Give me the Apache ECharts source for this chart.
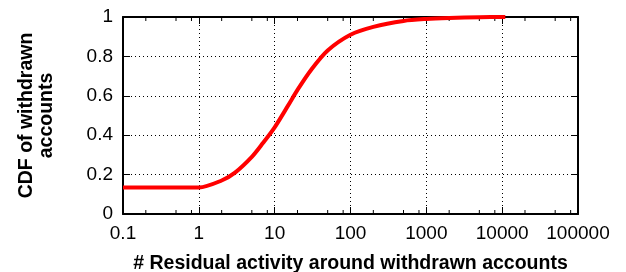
<!DOCTYPE html>
<html>
<head>
<meta charset="utf-8">
<script src="https://cdn.jsdelivr.net/npm/echarts@6/dist/echarts.min.js"></script>
<style>
  html, body { margin: 0; padding: 0; background: #fff; }
  #chart { width: 626px; height: 272px; }
</style>
</head>
<body>
<div id="chart"></div>
<script>
// 曲线数据
var xVals = [0.1, 1, 2, 3, 5, 7, 10, 15, 20, 30, 50, 100, 200, 500, 1000, 2000, 5000, 11000];
var yVals = [0.135, 0.135, 0.17, 0.21, 0.29, 0.36, 0.44, 0.55, 0.63, 0.73, 0.83, 0.91, 0.95, 0.98, 0.99, 0.995, 0.999, 1.0];
// 坐标轴刻度标签
var xTickLabels = ['0.1', '1', '10', '100', '1000', '10000', '100000'];
var yTickLabels = ['0', '0.2', '0.4', '0.6', '0.8', '1'];
// 次刻度
var minorTicks = [0.2, 0.5, 0.8, 2, 5, 8, 20, 50, 80, 200, 500, 800, 2000, 5000, 8000, 20000, 50000, 80000];

var font = 'Liberation Sans, Arial, Helvetica, sans-serif';

var lineData = [];
for (var i = 0; i < xVals.length; i++) {
  lineData.push([xVals[i], yVals[i]]);
}

var myChart = echarts.init(document.getElementById('chart'));

var xAxisBase = {
  type: 'log',
  logBase: 10,
  min: 0.1,
  max: 100000,
  interval: 1,
  axisLine: { show: true, onZero: false, lineStyle: { color: '#000', width: 2 } },
  axisTick: { show: true, inside: true, length: 7, lineStyle: { color: '#000', width: 1 } },
  splitLine: { show: false }
};

var yAxisBase = {
  type: 'value',
  min: 0,
  max: 1,
  interval: 0.2,
  axisLine: { show: true, lineStyle: { color: '#000', width: 2 } },
  axisTick: { show: true, inside: true, length: 7, lineStyle: { color: '#000', width: 1 } },
  splitLine: { show: false }
};

var option = {
  animation: false,
  grid: { left: 123, right: 48, top: 17, bottom: 58, containLabel: false, outerBoundsMode: 'none' },
  xAxis: [
    Object.assign({}, xAxisBase, {
      position: 'bottom',
      name: '# Residual activity around withdrawn accounts',
      nameLocation: 'middle',
      nameGap: 40,
      nameTextStyle: { color: '#000', fontFamily: font, fontWeight: 'bold', fontSize: 19.5 },
      axisLabel: {
        color: '#000', fontFamily: font, fontSize: 19, margin: 10,
        formatter: function (v, idx) { return xTickLabels[idx]; }
      },
      splitLine: { show: true, lineStyle: { color: '#000', type: [1, 3], width: 1 } }
    }),
    Object.assign({}, xAxisBase, {
      position: 'top',
      axisLabel: { show: false }
    })
  ],
  yAxis: [
    Object.assign({}, yAxisBase, {
      position: 'left',
      name: 'CDF of withdrawn\naccounts',
      nameLocation: 'middle',
      nameGap: 66,
      nameTextStyle: { color: '#000', fontFamily: font, fontWeight: 'bold', fontSize: 19.5, lineHeight: 20 },
      axisLabel: {
        color: '#000', fontFamily: font, fontSize: 19, margin: 10,
        formatter: function (v, idx) { return yTickLabels[idx]; }
      },
      splitLine: { show: true, lineStyle: { color: '#000', type: [1, 3], width: 1 } }
    }),
    Object.assign({}, yAxisBase, {
      position: 'right',
      axisLabel: { show: false }
    })
  ],
  series: [
    {
      // 次刻度线
      type: 'custom',
      xAxisIndex: 0,
      yAxisIndex: 0,
      silent: true,
      clip: false,
      data: minorTicks,
      renderItem: function (params, api) {
        var b = api.coord([api.value(0), 0]);
        var t = api.coord([api.value(0), 1]);
        return {
          type: 'group',
          children: [
            { type: 'line', shape: { x1: b[0], y1: b[1], x2: b[0], y2: b[1] - 4 }, style: { stroke: '#000', lineWidth: 1 } },
            { type: 'line', shape: { x1: t[0], y1: t[1], x2: t[0], y2: t[1] + 4 }, style: { stroke: '#000', lineWidth: 1 } }
          ]
        };
      }
    },
    {
      type: 'line',
      data: lineData,
      showSymbol: false,
      smooth: 0.3,
      clip: false,
      lineStyle: { color: '#ff0000', width: 4 },
      z: 5
    }
  ]
};

myChart.setOption(option);
</script>
</body>
</html>
